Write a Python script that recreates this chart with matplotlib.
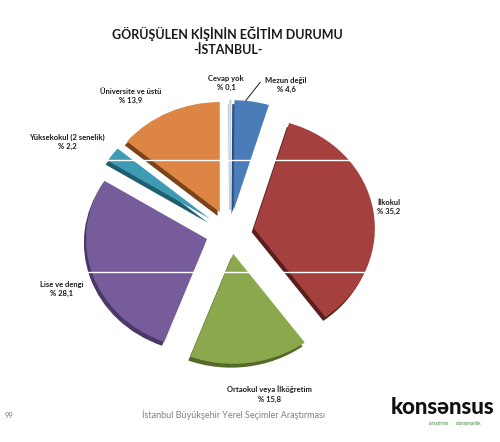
import matplotlib
matplotlib.use("Agg")
import matplotlib.pyplot as plt
import numpy as np

categories = ["Cevap yok", "Mezun değil", "İlkokul", "Ortaokul veya İlköğretim",
              "Lise ve dengi", "Yüksekokul (2 senelik)", "Üniversite ve üstü"]
values = [0.1, 4.6, 35.2, 15.8, 28.1, 2.2, 13.9]
value_labels = ["% 0,1", "% 4,6", "% 35,2", "% 15,8", "% 28,1", "% 2,2", "% 13,9"]
colors = ["#c3cfdd", "#4a7cba", "#a4403e", "#8ba94c", "#765c9a", "#3f9bb4", "#dc8544"]
dark = ["#9aa8b8", "#2c4f7c", "#5a1f1d", "#55692a", "#4a3866", "#1f5e6e", "#7a4318"]

plt.rcParams['font.family'] = ['Lato', 'DejaVu Sans']

W, H = 500, 442
fig = plt.figure(figsize=(W / 100, H / 100), dpi=100)
ax = fig.add_axes([0, 0, 1, 1])

cx, cy = 230, 232
rx, ry = 121, 110

explode = [0.2] * len(values)

ax.pie(values, colors=dark, startangle=90, counterclock=False, explode=explode,
       center=(-0.018, -0.035), radius=1.0,
       wedgeprops=dict(edgecolor='none', linewidth=0))
wedges, _ = ax.pie(values, colors=colors, startangle=90, counterclock=False,
                   explode=explode, radius=1.0,
                   wedgeprops=dict(edgecolor='none', linewidth=0))
wedges[0].set_edgecolor(colors[0])
wedges[0].set_linewidth(0.9)

ax.set_aspect('auto')
ax.set_xlim((0 - cx) / rx, (W - cx) / rx)
ax.set_ylim(-(H - cy) / ry, cy / ry)
ax.axis('off')

def py(y):
    return (cy - y) / ry
def px(x):
    return (x - cx) / rx
for yl, x0, x1 in [(160, 100, 362), (272, 80, 372)]:
    ax.plot([px(x0), px(x1)], [py(yl), py(yl)], color='white', lw=1.0, zorder=5)

def ftext(x, y, s, **kw):
    fig.text(x / W, 1 - y / H, s, **kw)

ftext(227, 34, "GÖRÜŞÜLEN KİŞİNİN EĞİTİM DURUMU", ha='center', va='center',
      fontsize=9, fontweight='bold', color='#1a1a1a')
ftext(228, 50, "-İSTANBUL-", ha='center', va='center',
      fontsize=9, fontweight='bold', color='#1a1a1a')

label_pos = {
    0: (226, 83),
    1: (286, 85),
    2: (389, 207),
    3: (269, 394),
    4: (62, 289),
    5: (67, 142),
    6: (131, 96),
}
for i, (x, y) in label_pos.items():
    ftext(x, y, categories[i] + "\n" + value_labels[i], ha='center', va='center',
          fontsize=5.5, fontweight='bold', color='#1a1a1a', linespacing=1.35)

ang = np.deg2rad(85)
mid = np.deg2rad(81.35)
xy = (0.2 * np.cos(mid) + 0.98 * np.cos(ang), 0.2 * np.sin(mid) + 0.98 * np.sin(ang))
ax.annotate("", xy=xy, xytext=(px(262), py(80)),
            arrowprops=dict(arrowstyle='-', color='#1a1a1a', lw=0.7))

ftext(9, 415, "99", ha='center', va='center', fontsize=5.5, color='#808080')
ftext(233, 415, "İstanbul Büyükşehir Yerel Seçimler Araştırması", ha='center',
      va='center', fontsize=6.5, color='#808080')
ftext(443, 408, "konsənsus", ha='center', va='center', fontsize=16,
      fontweight='black', color='#111111')
ftext(455, 423, "araştırma      danışmanlık", ha='center', va='center',
      fontsize=3.4, color='#3a8a3a')

fig.savefig("out.png", dpi=100)
